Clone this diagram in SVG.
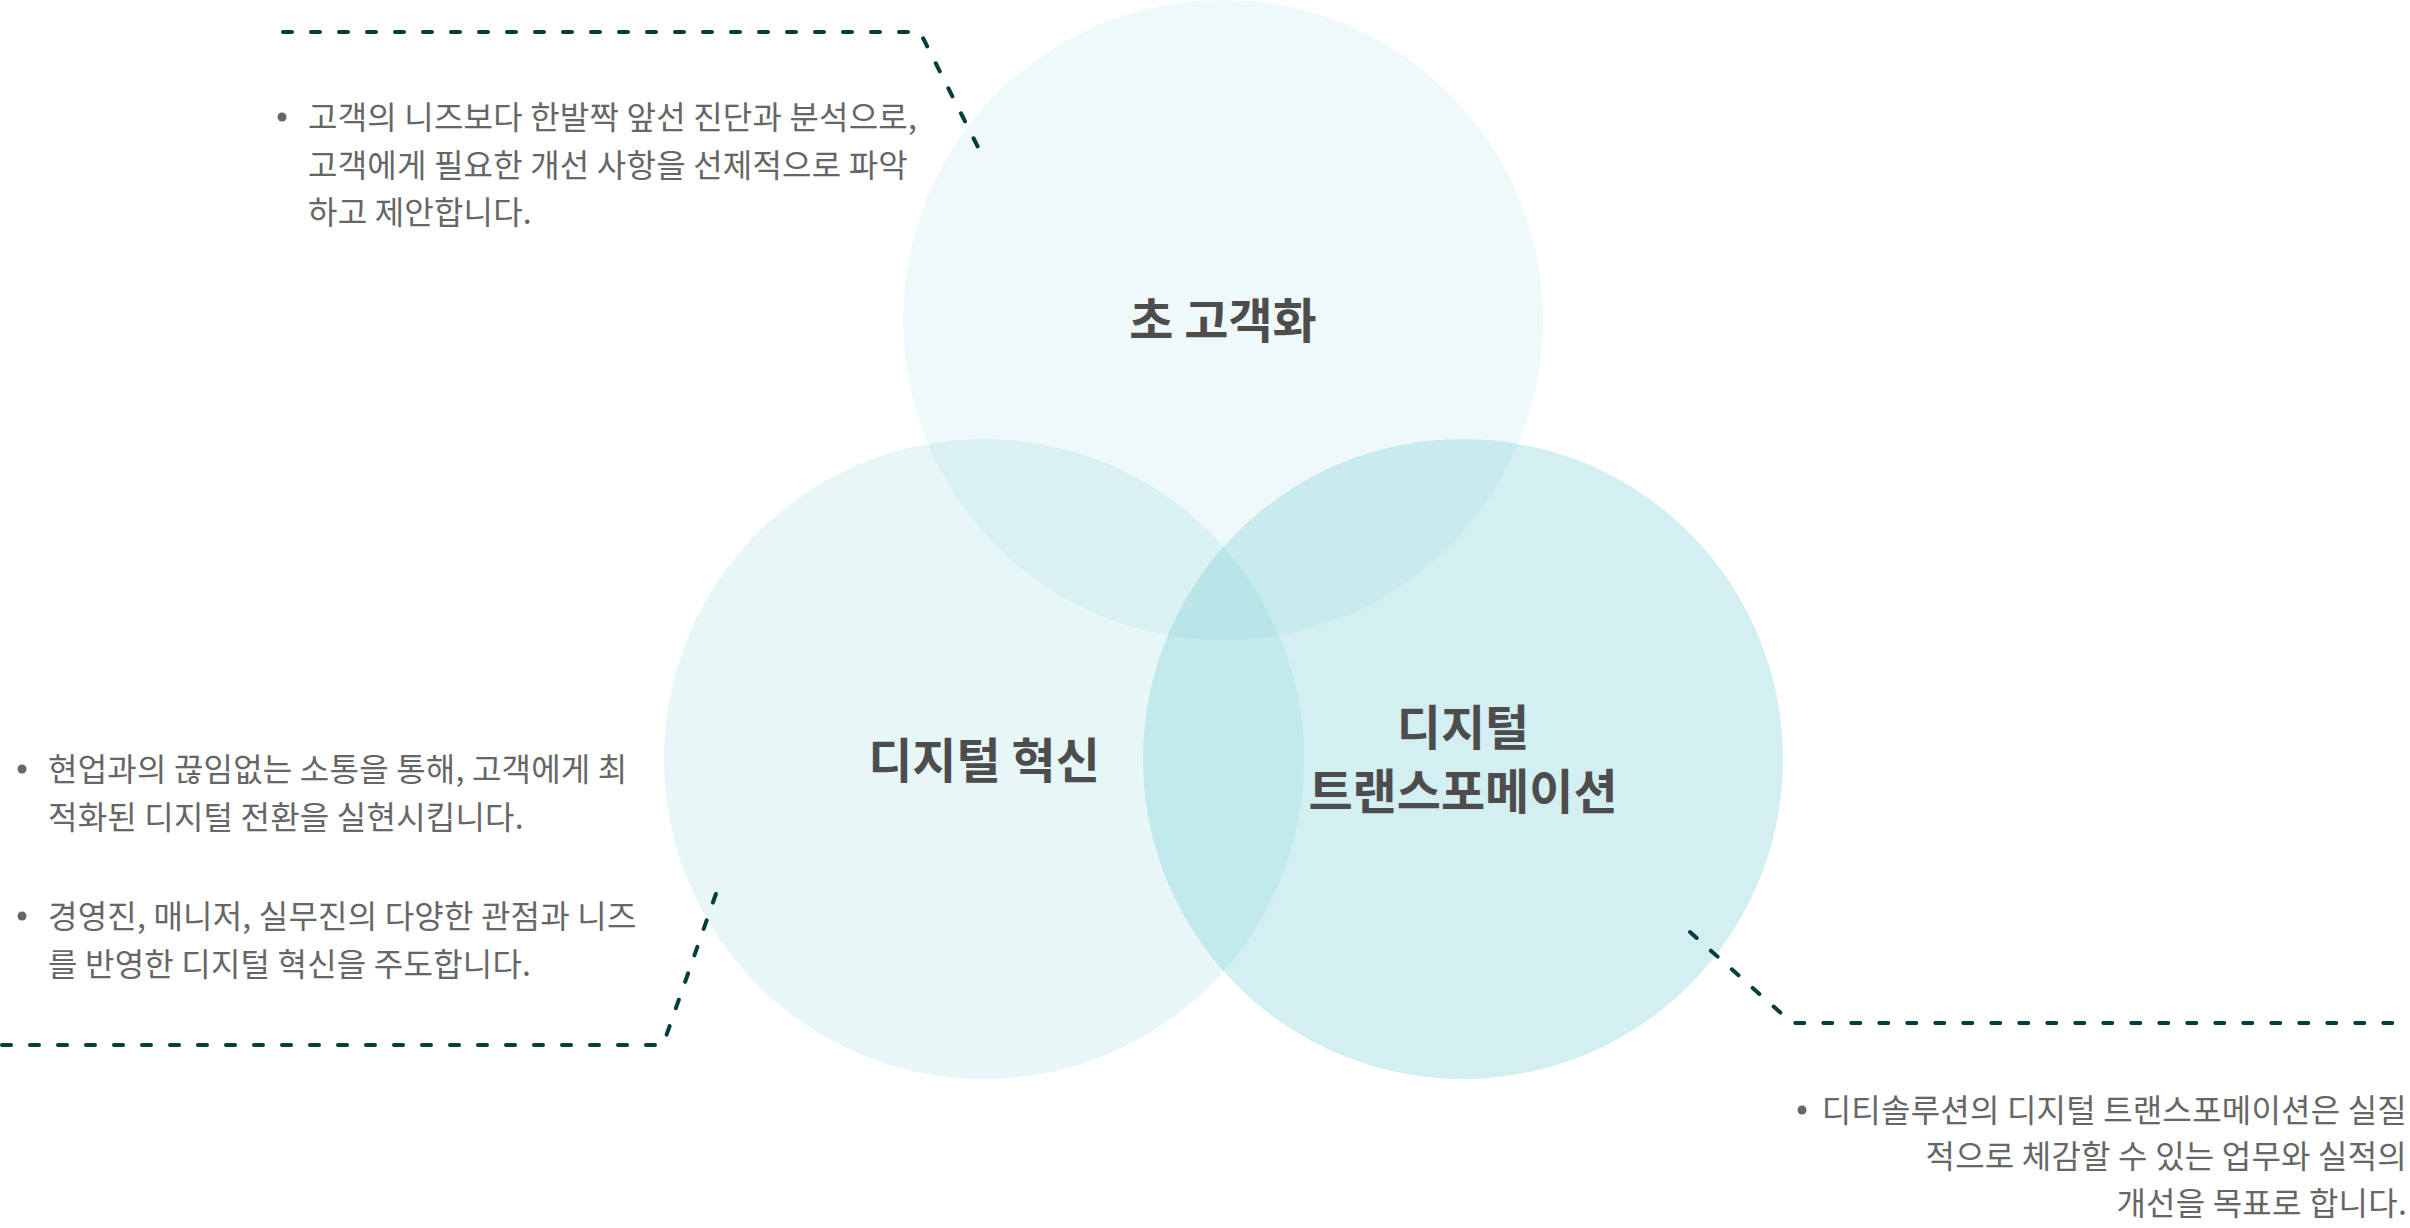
<svg xmlns="http://www.w3.org/2000/svg" width="2410" height="1228" viewBox="0 0 2410 1228">
<style>
.c{fill:#6cc9cf}
.lbl{font-family:"Noto Sans CJK KR","Noto Sans",sans-serif;font-weight:700;font-size:48px;fill:#4d4d4d;text-anchor:middle}
.body{font-family:"Noto Sans CJK KR","Noto Sans",sans-serif;font-size:32px;letter-spacing:0.2px;fill:#666666}
.dot{fill:#666666}
.lead{fill:none;stroke:#013f3b;stroke-width:4;stroke-dasharray:9 19;stroke-linecap:round;stroke-linejoin:round}
</style>
<rect width="2410" height="1228" fill="#ffffff"/>
<g id="node-top">
<circle class="c" cx="1223" cy="320" r="320" fill-opacity="0.11"/>
<text class="lbl" x="1223" y="338">초 고객화</text>
</g>
<g id="node-left">
<circle class="c" cx="984" cy="759" r="320" fill-opacity="0.16"/>
<text class="lbl" x="984" y="778">디지털 혁신</text>
</g>
<g id="node-right">
<circle class="c" cx="1463" cy="759" r="320" fill-opacity="0.30"/>
<text class="lbl" x="1463" y="745">디지털</text>
<text class="lbl" x="1463" y="809">트랜스포메이션</text>
</g>
<g id="connectors">
<path class="lead" d="M283,32 L920,32 L983,157"/>
<path class="lead" d="M2,1045 L663,1045 L718,888"/>
<path class="lead" d="M1690,932 L1792,1023 L2410,1023"/>
</g>
<g id="note-top">
<circle class="dot" cx="282" cy="117" r="4.5"/>
<text class="body" x="308" y="129">고객의 니즈보다 한발짝 앞선 진단과 분석으로,</text>
<text class="body" x="308" y="176.5">고객에게 필요한 개선 사항을 선제적으로 파악</text>
<text class="body" x="308" y="224">하고 제안합니다.</text>
</g>
<g id="note-left">
<circle class="dot" cx="22" cy="769" r="4.5"/>
<text class="body" x="48" y="781">현업과의 끊임없는 소통을 통해, 고객에게 최</text>
<text class="body" x="48" y="829">적화된 디지털 전환을 실현시킵니다.</text>
<circle class="dot" cx="22" cy="916" r="4.5"/>
<text class="body" x="48" y="928">경영진, 매니저, 실무진의 다양한 관점과 니즈</text>
<text class="body" x="48" y="976">를 반영한 디지털 혁신을 주도합니다.</text>
</g>
<g id="note-right">
<circle class="dot" cx="1802" cy="1110" r="4.5"/>
<text class="body" x="2407" y="1122" text-anchor="end">디티솔루션의 디지털 트랜스포메이션은 실질</text>
<text class="body" x="2407" y="1168" text-anchor="end">적으로 체감할 수 있는 업무와 실적의</text>
<text class="body" x="2407" y="1215" text-anchor="end">개선을 목표로 합니다.</text>
</g>
</svg>
